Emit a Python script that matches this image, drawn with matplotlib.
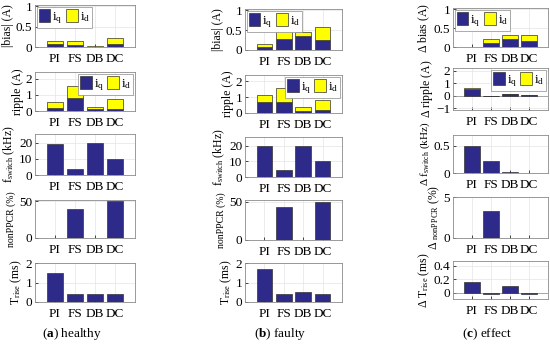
import matplotlib
matplotlib.use("Agg")
import matplotlib.pyplot as plt
from matplotlib.patches import Patch
import numpy as np

plt.rcParams['font.family'] = ['Liberation Serif', 'DejaVu Serif']
plt.rcParams['mathtext.fontset'] = 'custom'
plt.rcParams['mathtext.rm'] = 'Liberation Serif'
plt.rcParams['mathtext.it'] = 'Liberation Serif:italic'
plt.rcParams['mathtext.bf'] = 'Liberation Serif:bold'

categories = ["PI", "FS", "DB", "DC"]

# healthy
h_bias_iq = [0.07, 0.05, 0.01, 0.07]
h_bias_id = [0.08, 0.10, 0.01, 0.15]
h_ripple_iq = [0.20, 0.80, 0.10, 0.15]
h_ripple_id = [0.35, 0.75, 0.15, 0.60]
h_fswitch = [19.5, 4.0, 20.0, 10.0]
h_nonppcr = [0, 40, 0, 50]
h_trise = [1.5, 0.40, 0.40, 0.42]

# faulty
f_bias_iq = [0.07, 0.27, 0.34, 0.25]
f_bias_id = [0.08, 0.23, 0.12, 0.32]
f_ripple_iq = [0.68, 0.72, 0.15, 0.20]
f_ripple_id = [0.44, 0.83, 0.23, 0.60]
f_fswitch = [20.0, 4.5, 20.0, 10.0]
f_nonppcr = [0, 43, 0, 49]
f_trise = [1.68, 0.40, 0.50, 0.42]

# effect
e_bias_iq = [0.0, 0.10, 0.20, 0.17]
e_bias_id = [0.0, 0.12, 0.13, 0.15]
e_ripple_iq = [0.50, -0.05, 0.10, 0.05]
e_ripple_id = [0.10, 0.0, 0.05, 0.03]
e_fswitch = [0.50, 0.22, 0.02, 0.005]
e_nonppcr = [0, 3.3, 0, 0]
e_trise = [0.16, -0.02, 0.10, -0.01]

NAVY = "#2e2a8a"
YEL = "#ffff00"
EDGE = "#333333"

W, H = 550, 344
fig = plt.figure(figsize=(5.5, 3.44), dpi=100)

def ax_at(left, right, top, bottom):
    return fig.add_axes([left / W, 1 - bottom / H, (right - left) / W, (bottom - top) / H])

FS = 9.5
LFS = 8.5

def style(ax, ylim, yticks, yticklabels=None):
    ax.set_xlim(0, 5)
    ax.set_ylim(*ylim)
    ax.set_xticks(np.arange(1, 5))
    ax.set_xticklabels(categories, fontsize=FS)
    ax.set_yticks(yticks)
    if yticklabels is not None:
        ax.set_yticklabels(yticklabels)
    ax.tick_params(axis='both', labelsize=FS, length=2, width=0.5, direction='in', pad=2)
    ax.tick_params(axis='x', pad=4)
    ax.grid(True, color='#e4e4e4', linewidth=0.5)
    ax.set_axisbelow(True)
    for s in ax.spines.values():
        s.set_color('#8a8a8a')
        s.set_linewidth(0.6)

x = np.arange(1, 5)

def stacked(ax, iq, idd, legend_loc):
    ax.bar(x, iq, 0.8, color=NAVY, edgecolor=EDGE, linewidth=0.5, zorder=3)
    ax.bar(x, idd, 0.8, bottom=iq, color=YEL, edgecolor=EDGE, linewidth=0.5, zorder=3)
    h = [Patch(facecolor=NAVY, edgecolor=EDGE, linewidth=0.5),
         Patch(facecolor=YEL, edgecolor=EDGE, linewidth=0.5)]
    leg = ax.legend(h, [r"i$_{\rm q}$", r"i$_{\rm d}$"], loc=legend_loc, ncol=2,
                    fontsize=FS, handlelength=0.9, handleheight=1.2, handletextpad=0.15,
                    columnspacing=0.25, borderpad=0.15, borderaxespad=0.12, fancybox=False,
                    framealpha=1)
    leg.get_frame().set_edgecolor('#8a8a8a')
    leg.get_frame().set_linewidth(0.5)

def single(ax, vals):
    ax.bar(x, vals, 0.8, color=NAVY, edgecolor=EDGE, linewidth=0.5, zorder=3)

cols = [
    (35, 135, [(5, 47), (72, 111), (134, 175), (200, 238), (263, 302)]),
    (245, 342, [(9, 50), (75, 113), (137, 177), (200, 240), (263, 302)]),
    (453, 548, [(8, 47), (68, 110), (135, 173), (197, 238), (261, 299)]),
]

data = [
    (h_bias_iq, h_bias_id, h_ripple_iq, h_ripple_id, h_fswitch, h_nonppcr, h_trise),
    (f_bias_iq, f_bias_id, f_ripple_iq, f_ripple_id, f_fswitch, f_nonppcr, f_trise),
    (e_bias_iq, e_bias_id, e_ripple_iq, e_ripple_id, e_fswitch, e_nonppcr, e_trise),
]

LP = 1
for ci, (l, r, rows) in enumerate(cols):
    biq, bid, riq, rid, fsw, npp, tr = data[ci]
    eff = ci == 2
    # bias
    ax = ax_at(l, r, *rows[0])
    stacked(ax, biq, bid, 'upper left')
    style(ax, (0, 1.03), [0, 0.5, 1], ["0", "0.5", "1"])
    ax.set_ylabel(r"$\Delta$ bias (A)" if eff else "|bias| (A)", fontsize=LFS, labelpad=LP)
    # ripple
    ax = ax_at(l, r, *rows[1])
    stacked(ax, riq, rid, 'upper right')
    if eff:
        style(ax, (-1.15, 2.2), [-1, 0, 1, 2])
        ax.axhline(0, color='#8a8a8a', linewidth=0.5, zorder=2)
    else:
        style(ax, (0, 2.4), [0, 1, 2])
    ax.set_ylabel(r"$\Delta$ ripple (A)" if eff else "ripple (A)", fontsize=LFS, labelpad=LP)
    # fswitch
    ax = ax_at(l, r, *rows[2])
    single(ax, fsw)
    if eff:
        style(ax, (0, 0.7), [0, 0.5], ["0", "0.5"])
        ax.set_ylabel(r"$\Delta$ f$_{\rm switch}$ (kHz)", fontsize=LFS - 0.5, labelpad=LP)
    else:
        style(ax, (0, 25.5), [0, 10, 20])
        ax.set_ylabel(r"f$_{\rm switch}$ (kHz)", fontsize=LFS, labelpad=LP)
    # nonPPCR
    ax = ax_at(l, r, *rows[3])
    single(ax, npp)
    if eff:
        style(ax, (0, 5), [0, 5])
        ax.set_ylabel(r"$\Delta$ $_{\rm nonPPCR}$ (%)", fontsize=LFS, labelpad=LP)
    else:
        style(ax, (0, 52), [0, 50])
        ax.set_ylabel("nonPPCR (%)", fontsize=LFS - 1.5, labelpad=LP + 1)
    # trise
    ax = ax_at(l, r, *rows[4])
    single(ax, tr)
    if eff:
        style(ax, (-0.09, 0.47), [0, 0.2, 0.4], ["0", "0.2", "0.4"])
        ax.axhline(0, color='#8a8a8a', linewidth=0.5, zorder=2)
        ax.set_ylabel(r"$\Delta$ T$_{\rm rise}$ (ms)", fontsize=LFS, labelpad=LP)
    else:
        style(ax, (0, 2), [0, 1, 2])
        ax.set_ylabel(r"T$_{\rm rise}$ (ms)", fontsize=LFS, labelpad=LP)

captions = [(r"($\mathbf{a}$) healthy", 72), (r"($\mathbf{b}$) faulty", 280), (r"($\mathbf{c}$) effect", 487)]
for txt, xc in captions:
    fig.text(xc / W, 1 - 334 / H, txt, ha='center', va='center', fontsize=FS)

fig.savefig("out.png", dpi=100)
